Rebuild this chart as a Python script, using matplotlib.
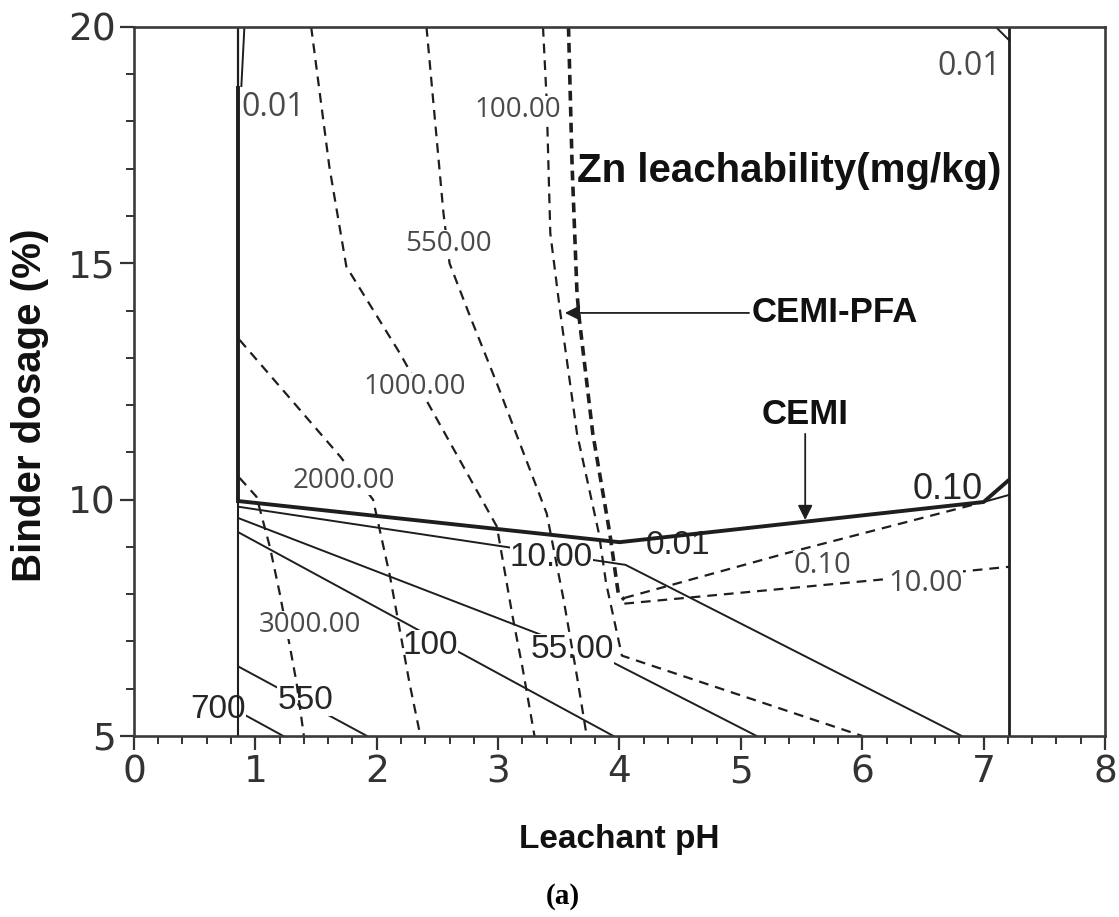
import matplotlib
matplotlib.use("Agg")
import matplotlib.pyplot as plt
from matplotlib.ticker import MultipleLocator

plt.rcParams['font.family'] = ['Liberation Sans', 'DejaVu Sans']
plt.rcParams['lines.scale_dashes'] = False

# pH window of the model (vertical boundaries)
ph_min = 0.86
ph_max = 7.21

# CEMI binder: minimum dosage line (bold) and solid contours
cemi_ph = [ph_min, 4.0, 7.0, ph_max]
cemi_dose = [9.97, 9.10, 9.95, 10.42]

cemi_010_ph = [7.0, ph_max]
cemi_010_dose = [9.95, 10.10]

cemi_10_ph = [ph_min, 4.05, 6.82]
cemi_10_dose = [9.85, 8.62, 5.0]

cemi_55_ph = [ph_min, 3.95, 5.13]
cemi_55_dose = [9.61, 6.55, 5.0]

cemi_100_ph = [ph_min, 3.95]
cemi_100_dose = [9.31, 5.0]

cemi_550_ph = [ph_min, 1.92]
cemi_550_dose = [6.47, 5.0]

cemi_700_ph = [ph_min, 1.23]
cemi_700_dose = [5.52, 5.0]

# 0.01 contours at the top corners
top_left_ph = [0.91, 0.885]
top_left_dose = [20.0, 18.75]
top_right_ph = [7.10, ph_max]
top_right_dose = [20.0, 19.72]

# CEMI-PFA binder: dashed contours
pfa_3000_ph = [0.87, 1.01, 1.12, 1.20, 1.29, 1.34, 1.40]
pfa_3000_dose = [10.46, 10.06, 9.0, 8.03, 6.82, 6.12, 5.0]

pfa_2000_ph = [0.87, 1.70, 1.97, 2.11, 2.27, 2.36]
pfa_2000_dose = [13.38, 10.91, 10.0, 8.37, 6.12, 5.0]

pfa_1000_ph = [1.46, 1.61, 1.75, 2.19, 2.44, 2.99, 3.12, 3.20, 3.30]
pfa_1000_dose = [20.0, 17.04, 14.93, 13.10, 11.96, 9.43, 7.52, 6.46, 5.0]

pfa_550_ph = [2.41, 2.55, 2.60, 2.77, 2.99, 3.40, 3.54, 3.65, 3.73]
pfa_550_dose = [20.0, 16.06, 15.0, 13.87, 12.46, 9.71, 7.88, 6.26, 5.0]

pfa_100_ph = [3.37, 3.40, 3.43, 3.51, 3.65, 3.83, 3.89, 3.98, 4.02, 6.0]
pfa_100_dose = [20.0, 18.46, 15.64, 14.0, 11.4, 9.29, 8.23, 7.17, 6.7, 5.0]

pfa_min_ph = [3.58, 3.61, 3.65, 3.67, 3.78, 3.92, 3.99, 4.04]
pfa_min_dose = [20.0, 17.04, 14.37, 13.8, 11.4, 9.29, 8.02, 7.88]

pfa_010_ph = [4.04, 5.38, 7.0]
pfa_010_dose = [7.92, 8.87, 9.95]

pfa_10_ph = [4.04, 6.12, ph_max]
pfa_10_dose = [7.80, 8.30, 8.58]

# contour labels: (text, pH, dosage, size)
solid_labels = [
    ("10.00", 3.44, 8.77, 24),
    ("55.00", 3.61, 6.82, 24),
    ("100", 2.44, 6.91, 24),
    ("550", 1.41, 5.76, 24),
    ("700", 0.69, 5.55, 24),
    ("0.01", 4.48, 9.04, 24),
    ("0.10", 6.70, 10.21, 26),
]
dashed_labels = [
    ("0.01", 1.15, 18.29, 23),
    ("0.01", 6.88, 19.17, 23),
    ("100.00", 3.16, 18.24, 20),
    ("550.00", 2.59, 15.41, 20),
    ("1000.00", 2.31, 12.38, 20),
    ("2000.00", 1.73, 10.40, 20),
    ("3000.00", 1.45, 7.35, 20),
    ("0.10", 5.67, 8.60, 21),
    ("10.00", 6.52, 8.22, 21),
]

ink = '#1e1e1e'
fig = plt.figure(figsize=(11.19, 9.17), dpi=100)
ax = fig.add_axes([0.1197, 0.1974, 0.8678, 0.7732])

# solid contours (CEMI); the bold minimum-dosage line sits above the labels
ax.plot(cemi_ph, cemi_dose, color=ink, lw=2.8, zorder=3.5, solid_capstyle='butt')
for xs, ys in [(cemi_010_ph, cemi_010_dose), (cemi_10_ph, cemi_10_dose),
               (cemi_55_ph, cemi_55_dose), (cemi_100_ph, cemi_100_dose),
               (cemi_550_ph, cemi_550_dose), (cemi_700_ph, cemi_700_dose),
               (top_left_ph, top_left_dose), (top_right_ph, top_right_dose)]:
    ax.plot(xs, ys, color=ink, lw=1.4, zorder=2)

for text, x, y, size in solid_labels:
    ax.text(x, y, text, fontsize=size, color='#262626', ha='center', va='center',
            zorder=3, bbox=dict(facecolor='white', edgecolor='none', pad=0.2))

# dashed contours (CEMI-PFA)
dash = (0, (7, 5))
for xs, ys in [(pfa_3000_ph, pfa_3000_dose), (pfa_2000_ph, pfa_2000_dose),
               (pfa_1000_ph, pfa_1000_dose), (pfa_550_ph, pfa_550_dose),
               (pfa_100_ph, pfa_100_dose), (pfa_010_ph, pfa_010_dose),
               (pfa_10_ph, pfa_10_dose)]:
    ax.plot(xs, ys, color=ink, lw=1.6, ls=dash, zorder=4)
ax.plot(pfa_min_ph, pfa_min_dose, color=ink, lw=2.6, ls=(0, (7, 4.5)), zorder=4)

for text, x, y, size in dashed_labels:
    ax.text(x, y, text, fontsize=size, color='#4a4a4a', ha='center', va='center',
            family='Open Sans', zorder=5,
            bbox=dict(facecolor='white', edgecolor='none', pad=0.2))

# pH window boundaries
ax.plot([ph_min, ph_min], [20.0, 18.7], color=ink, lw=1.6, zorder=6)
ax.plot([ph_min, ph_min], [18.7, cemi_dose[0]], color=ink, lw=2.8, zorder=6)
ax.plot([ph_min, ph_min], [cemi_dose[0], 5.0], color=ink, lw=1.5, zorder=6)
ax.plot([ph_max, ph_max], [20.0, 5.0], color=ink, lw=2.0, zorder=6)

# annotations
ax.text(5.40, 16.95, 'Zn leachability(mg/kg)', fontsize=29, fontweight='bold',
        ha='center', va='center', color='#111111', zorder=7)
ax.annotate('CEMI-PFA', xy=(3.55, 13.95), xytext=(5.09, 13.95),
            fontsize=25, fontweight='bold', ha='left', va='center', color='#111111',
            arrowprops=dict(arrowstyle='-|>', color=ink, lw=1.3,
                            mutation_scale=22, shrinkA=0, shrinkB=0), zorder=7)
ax.annotate('CEMI', xy=(5.53, 9.57), xytext=(5.53, 11.45),
            fontsize=25, fontweight='bold', ha='center', va='bottom', color='#111111',
            arrowprops=dict(arrowstyle='-|>', color=ink, lw=1.3,
                            mutation_scale=22, shrinkA=0, shrinkB=0), zorder=7)

ax.set_xlim(0, 8)
ax.set_ylim(5, 20)
ax.xaxis.set_major_locator(MultipleLocator(1))
ax.xaxis.set_minor_locator(MultipleLocator(0.2))
ax.yaxis.set_major_locator(MultipleLocator(5))
ax.yaxis.set_minor_locator(MultipleLocator(1))
ax.tick_params(which='major', direction='out', length=10, width=1.6,
               labelsize=27, pad=3, colors='#333333')
ax.tick_params(which='minor', direction='out', length=6, width=1.4, colors='#333333')
for lbl in ax.get_xticklabels() + ax.get_yticklabels():
    lbl.set_family('DejaVu Sans')
for sp in ax.spines.values():
    sp.set_linewidth(1.9)
    sp.set_color('#3a3a3a')
    sp.set_zorder(8)

ax.set_xlabel('Leachant pH', fontsize=24, fontweight='bold', color='#111111')
ax.xaxis.label.set_va('center')
ax.xaxis.set_label_coords(0.5, -0.1467)
ax.set_ylabel('Binder dosage (%)', fontsize=29, fontweight='bold', color='#111111')
ax.yaxis.label.set_va('center')
ax.yaxis.set_label_coords(-0.107, 0.467)

fig.text(563 / 1119, 1 - 897 / 917, '(a)', fontsize=21, fontweight='bold',
         family='Liberation Serif', ha='center', va='center')

fig.savefig('out.png', dpi=100, facecolor='white')
